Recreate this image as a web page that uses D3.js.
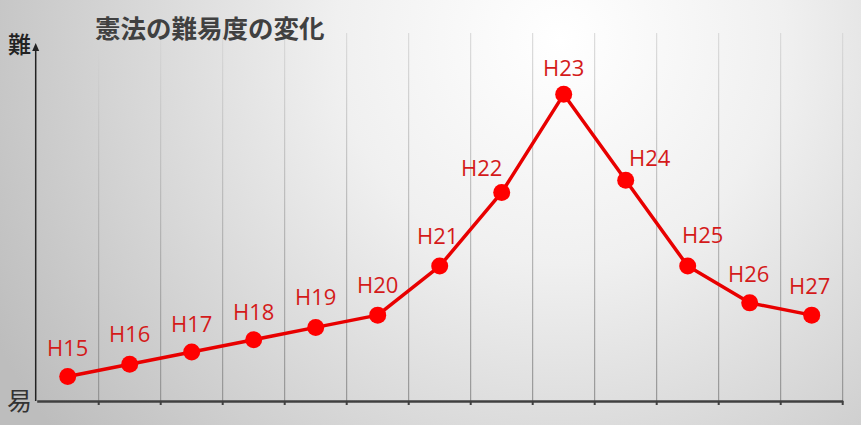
<html>
<head>
<meta charset="utf-8">
<style>
body { margin: 0; }
svg { display: block; }
</style>
</head>
<body>
<svg></svg>
<script src="https://d3js.org/d3.v7.min.js"></script>
<script>

// data (relative difficulty, axis 0..30)
const years = ['H15', 'H16', 'H17', 'H18', 'H19', 'H20', 'H21', 'H22', 'H23', 'H24', 'H25', 'H26', 'H27'];
const difficulty = [2, 3, 4, 5, 6, 7, 11, 17, 25, 18, 11, 8, 7];
const yDomain = [0, 30];
const titleText = '憲法の難易度の変化';
const topLabel = '難';
const bottomLabel = '易';

const fullWidth = 861;
const fullHeight = 425;
const plot = {left: 36.7, right: 842.7, top: 33, bottom: 401};

const lineColor = '#e80000';
const dotColor = '#ff0000';
const labelColor = '#d41a1a';

// label nudges so the text clears the line (layout only)
const labelNudge = [
    [0, -20], [0, -22], [0, -20], [0, -20], [0, -22], [0, -22],
    [-2, -22], [-20, -16], [0, -18], [24, -14], [15, -23], [-1, -21], [-2, -21],
];

const svg = d3.select('svg')
    .attr('width', fullWidth)
    .attr('height', fullHeight);

const defs = svg.append('defs');

const bg = defs.append('radialGradient')
    .attr('id', 'bg')
    .attr('gradientUnits', 'userSpaceOnUse')
    .attr('cx', 560).attr('cy', 40).attr('r', 640);
bg.append('stop').attr('offset', 0).attr('stop-color', '#ffffff');
bg.append('stop').attr('offset', 0.35).attr('stop-color', '#f0f0f0');
bg.append('stop').attr('offset', 1).attr('stop-color', '#bdbdbd');

const gridGrad = defs.append('linearGradient')
    .attr('id', 'grid')
    .attr('gradientUnits', 'userSpaceOnUse')
    .attr('x1', 0).attr('y1', plot.top).attr('x2', 0).attr('y2', plot.bottom);
gridGrad.append('stop').attr('offset', 0).attr('stop-color', '#d6d6d6');
gridGrad.append('stop').attr('offset', 1).attr('stop-color', '#888888');

svg.append('rect')
    .attr('width', fullWidth)
    .attr('height', fullHeight)
    .attr('fill', 'url(#bg)');

const x = d3.scaleBand()
    .domain(years)
    .range([plot.left, plot.right])
    .padding(0);

const y = d3.scaleLinear()
    .domain(yDomain)
    .range([plot.bottom, plot.top]);

const bw = x.bandwidth();
const cx = d => x(d) + bw / 2;

// vertical gridlines on the band edges
svg.append('g')
    .selectAll('line')
    .data(years)
    .join('line')
    .attr('x1', d => x(d) + bw)
    .attr('x2', d => x(d) + bw)
    .attr('y1', plot.top)
    .attr('y2', plot.bottom)
    .attr('stroke', 'url(#grid)')
    .attr('stroke-width', 1);

// x axis with ticks on the band edges
const xAxis = svg.append('g')
    .attr('transform', `translate(0,${plot.bottom})`)
    .call(d3.axisBottom(x).tickSize(4).tickSizeOuter(0).tickFormat(''));
xAxis.select('.domain')
    .attr('stroke', '#404040')
    .attr('stroke-width', 2.5);
xAxis.selectAll('.tick')
    .attr('transform', d => `translate(${x(d) + bw},0)`);
xAxis.selectAll('.tick line')
    .attr('stroke', '#404040')
    .attr('stroke-width', 2);

// y axis: a bare arrow
const ax = plot.left - 1;
svg.append('line')
    .attr('x1', ax).attr('x2', ax)
    .attr('y1', plot.bottom)
    .attr('y2', 50)
    .attr('stroke', '#222')
    .attr('stroke-width', 1.5);
svg.append('path')
    .attr('d', `M${ax},43 L${ax + 3.5},51 L${ax - 3.5},51 Z`)
    .attr('fill', '#222');

svg.append('text')
    .attr('x', 8).attr('y', 53)
    .attr('font-family', '"Noto Sans CJK JP"')
    .attr('font-size', 23)
    .attr('font-weight', 500)
    .attr('fill', '#222')
    .text(topLabel);

svg.append('text')
    .attr('x', 7).attr('y', 410)
    .attr('font-family', '"Noto Sans CJK JP"')
    .attr('font-size', 25)
    .attr('fill', '#333')
    .text(bottomLabel);

svg.append('text')
    .attr('x', 95).attr('y', 38)
    .attr('font-family', '"Noto Sans CJK JP"')
    .attr('font-size', 25.5)
    .attr('font-weight', 700)
    .attr('fill', '#404040')
    .text(titleText);

const series = years.map((d, i) => ({year: d, value: difficulty[i], nudge: labelNudge[i]}));

const line = d3.line()
    .x(d => cx(d.year))
    .y(d => y(d.value));

svg.append('path')
    .datum(series)
    .attr('d', line)
    .attr('fill', 'none')
    .attr('stroke', lineColor)
    .attr('stroke-width', 3.5)
    .attr('stroke-linejoin', 'round');

svg.append('g')
    .selectAll('circle')
    .data(series)
    .join('circle')
    .attr('cx', d => cx(d.year))
    .attr('cy', d => y(d.value))
    .attr('r', 8.5)
    .attr('fill', dotColor);

svg.append('g')
    .selectAll('text')
    .data(series)
    .join('text')
    .attr('x', d => cx(d.year) + d.nudge[0])
    .attr('y', d => y(d.value) + d.nudge[1])
    .attr('text-anchor', 'middle')
    .attr('font-family', '"Open Sans", "Noto Sans", sans-serif')
    .attr('font-size', 22)
    .attr('font-weight', 500)
    .attr('fill', labelColor)
    .text(d => d.year);

</script>
</body>
</html>
